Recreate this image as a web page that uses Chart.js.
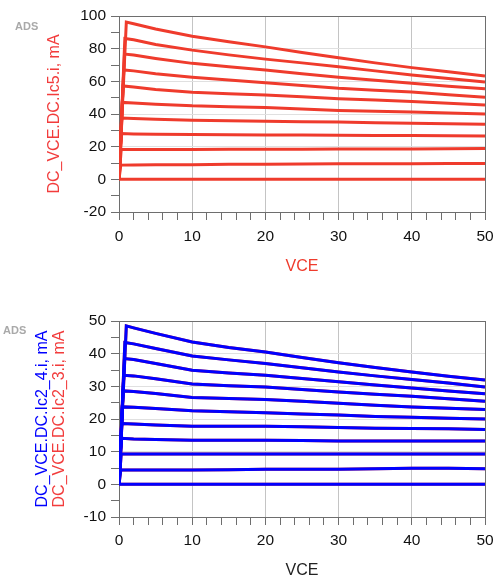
<!DOCTYPE html>
<html>
<head>
<meta charset="utf-8">
<script src="https://cdn.jsdelivr.net/npm/chart.js@4/dist/chart.umd.min.js"></script>
<style>
  html, body { margin: 0; padding: 0; background: #fff; }
  #wrap { position: relative; width: 496px; height: 581px; }
  canvas { position: absolute; left: 0; }
</style>
</head>
<body>
<div id="wrap">
  <canvas id="chartIc5" width="496" height="290" style="top:0"></canvas>
  <canvas id="chartIc2" width="496" height="291" style="top:290px"></canvas>
</div>
<script>
// VCE sweep points (V) shared by all curves after the knee
const vce = [2, 5, 10, 15, 20, 25, 30, 35, 40, 45, 50];

// Top chart: Ic5 (mA), one row per base-current step, from highest to lowest
const kneeIc5 = [1.0, 0.8, 0.75, 0.65, 0.55, 0.45, 0.4, 0.35, 0.3, 0.25, 0.05];
const peakIc5 = [96.3, 86.2, 76.7, 67.0, 57.2, 47.1, 37.5, 28.0, 18.3, 8.7, 0];
const ic5 = [
  [95.3, 92.0, 87.6, 84.2, 81.1, 77.6, 74.4, 71.3, 68.4, 65.8, 63.3],
  [85.4, 82.6, 79.1, 76.2, 73.6, 71.3, 69.0, 66.4, 63.9, 61.7, 59.6],
  [76.1, 74.0, 71.0, 68.9, 67.0, 64.7, 62.5, 60.6, 58.8, 57.0, 55.4],
  [66.4, 64.6, 62.5, 60.8, 59.2, 57.5, 55.8, 54.6, 53.4, 51.8, 50.3],
  [56.6, 55.0, 53.3, 52.4, 51.7, 50.5, 49.3, 48.5, 47.7, 46.6, 45.5],
  [46.8, 46.0, 45.0, 44.5, 44.0, 43.1, 42.2, 41.7, 41.2, 40.6, 40.0],
  [37.3, 36.8, 36.1, 35.8, 35.5, 35.3, 35.1, 34.7, 34.3, 34.0, 33.7],
  [27.8, 27.6, 27.4, 27.3, 27.2, 27.1, 27.0, 26.9, 26.8, 26.7, 26.6],
  [18.3, 18.3, 18.3, 18.4, 18.4, 18.4, 18.5, 18.5, 18.6, 18.8, 18.9],
  [8.8, 8.9, 9.0, 9.2, 9.3, 9.4, 9.5, 9.5, 9.6, 9.7, 9.7],
  [0, 0, 0, 0, 0, 0, 0, 0, 0, 0, 0]
];

// Bottom chart: Ic2_4 (blue) and Ic2_3 (red) in mA; the two sets of curves coincide
const kneeIc2 = [1.0, 0.8, 0.75, 0.65, 0.55, 0.45, 0.4, 0.35, 0.3, 0.25, 0.05];
const peakIc2 = [48.5, 43.4, 38.5, 33.4, 28.6, 23.7, 18.6, 14.1, 9.3, 4.4, 0];
const ic2_4 = [
  [47.9, 46.2, 43.6, 41.9, 40.5, 38.8, 37.2, 35.8, 34.4, 33.1, 31.9],
  [43.0, 41.6, 39.3, 38.1, 37.0, 35.7, 34.4, 33.2, 32.1, 31.0, 29.8],
  [38.2, 37.0, 34.9, 34.1, 33.4, 32.4, 31.4, 30.4, 29.5, 28.6, 27.7],
  [33.2, 32.3, 30.7, 30.2, 29.8, 29.0, 28.3, 27.6, 27.0, 26.2, 25.4],
  [28.4, 27.8, 26.6, 26.3, 26.0, 25.4, 24.8, 24.2, 23.7, 23.3, 22.9],
  [23.6, 23.2, 22.5, 22.2, 21.9, 21.5, 21.2, 20.8, 20.5, 20.2, 20.0],
  [18.5, 18.2, 17.8, 17.8, 17.8, 17.6, 17.4, 17.2, 17.1, 17.0, 16.8],
  [13.9, 13.7, 13.5, 13.5, 13.5, 13.4, 13.3, 13.3, 13.3, 13.3, 13.3],
  [9.3, 9.3, 9.3, 9.3, 9.3, 9.3, 9.3, 9.3, 9.3, 9.3, 9.3],
  [4.4, 4.4, 4.4, 4.5, 4.6, 4.6, 4.6, 4.8, 4.9, 4.9, 4.8],
  [0, 0, 0, 0, 0, 0, 0, 0, 0, 0, 0]
];
const ic2_3 = ic2_4;

const RED = "#ef3b2c";
const BLUE = "#0000ff";
const FONT = "'Liberation Sans', Arial, sans-serif";

function curvePoints(knee, peak, row) {
  const pts = [{ x: 0, y: 0 }, { x: knee, y: peak }];
  row.forEach((v, j) => pts.push({ x: vce[j], y: v }));
  return pts;
}

function makeDatasets(knees, peaks, rows, color) {
  return rows.map((row, i) => ({
    data: curvePoints(knees[i], peaks[i], row),
    borderColor: color,
    borderWidth: 3,
    pointRadius: 0,
    tension: 0,
    fill: false
  }));
}

// rotated axis titles and the "ADS" tag
const sideText = {
  id: "sideText",
  afterDraw(chart, args, opts) {
    const ctx = chart.ctx;
    const area = chart.chartArea;
    const cy = (area.top + area.bottom) / 2;
    ctx.save();
    ctx.font = "16px " + FONT;
    ctx.textAlign = "center";
    ctx.textBaseline = "middle";
    opts.lines.forEach(l => {
      ctx.save();
      ctx.translate(l.x, cy);
      ctx.rotate(-Math.PI / 2);
      ctx.fillStyle = l.color;
      ctx.fillText(l.text, 0, 0);
      ctx.restore();
    });
    ctx.font = "bold 11px " + FONT;
    ctx.textAlign = "left";
    ctx.fillStyle = "#a9a9a9";
    ctx.fillText("ADS", opts.ads.x, opts.ads.y);
    ctx.restore();
  }
};

function makeOptions(cfg) {
  return {
    responsive: false,
    animation: false,
    layout: { padding: { top: cfg.top, right: 11, left: 0, bottom: 0 } },
    plugins: {
      legend: { display: false },
      tooltip: { enabled: false },
      sideText: { lines: cfg.yTitles, ads: cfg.ads }
    },
    scales: {
      x: {
        type: "linear",
        min: 0, max: 50,
        afterFit: s => { s.height = cfg.xHeight; s.paddingLeft = 0; s.paddingRight = 0; },
        border: { color: "#6e6e6e", width: 1 },
        grid: {
          tickLength: 8,
          tickWidth: 1,
          tickColor: "#6e6e6e",
          color: c => {
            const v = c.tick ? c.tick.value : 0;
            if (v === 50) return "#6e6e6e";
            if (v > 0 && v % 10 === 0) return "#c4c4c4";
            return "rgba(0,0,0,0)";
          }
        },
        ticks: {
          stepSize: 2,
          maxTicksLimit: 100,
          autoSkip: false,
          maxRotation: 0,
          padding: cfg.xPad,
          color: "#111",
          font: { family: FONT, size: 15.5 },
          callback: v => (v % 10 === 0 ? v : "")
        },
        title: {
          display: true,
          text: "VCE",
          color: cfg.xTitleColor,
          font: { family: FONT, size: 16 },
          padding: { top: 0, bottom: cfg.xTitlePad }
        }
      },
      y: {
        type: "linear",
        min: cfg.yMin, max: cfg.yMax,
        afterFit: s => { s.width = 119; s.paddingTop = 0; s.paddingBottom = 0; },
        border: { color: "#6e6e6e", width: 1 },
        grid: {
          tickLength: 8,
          tickWidth: 1,
          tickColor: "#6e6e6e",
          color: c => {
            const v = c.tick ? c.tick.value : 0;
            if (v === cfg.yMax) return "#6e6e6e";
            if (v > 0 && v % cfg.yLabelStep === 0) return "#e0e0e0";
            return "rgba(0,0,0,0)";
          }
        },
        ticks: {
          stepSize: cfg.yStep,
          maxTicksLimit: 100,
          autoSkip: false,
          padding: 5,
          color: "#111",
          font: { family: FONT, size: 15.5 },
          callback: v => (v % cfg.yLabelStep === 0 ? v : "")
        }
      }
    }
  };
}

new Chart(document.getElementById("chartIc5"), {
  type: "line",
  data: { datasets: makeDatasets(kneeIc5, peakIc5, ic5, RED) },
  options: makeOptions({
    top: 16, xHeight: 78, xPad: 7, xTitlePad: 14, xTitleColor: RED,
    yMin: -20, yMax: 100, yStep: 10, yLabelStep: 20,
    yTitles: [{ text: "DC_VCE.DC.Ic5.i, mA", color: "#f23c3c", x: 55 }],
    ads: { x: 15, y: 27 }
  }),
  plugins: [sideText]
});

new Chart(document.getElementById("chartIc2"), {
  type: "line",
  data: {
    datasets: makeDatasets(kneeIc2, peakIc2, ic2_4, BLUE)
      .concat(makeDatasets(kneeIc2, peakIc2, ic2_3, RED))
  },
  options: makeOptions({
    top: 31, xHeight: 64, xPad: 6, xTitlePad: 1, xTitleColor: "#222",
    yMin: -10, yMax: 50, yStep: 5, yLabelStep: 10,
    yTitles: [
      { text: "DC_VCE.DC.Ic2_4.i, mA", color: BLUE, x: 43 },
      { text: "DC_VCE.DC.Ic2_3.i, mA", color: "#f23c3c", x: 60 }
    ],
    ads: { x: 3, y: 41 }
  }),
  plugins: [sideText]
});
</script>
</body>
</html>
